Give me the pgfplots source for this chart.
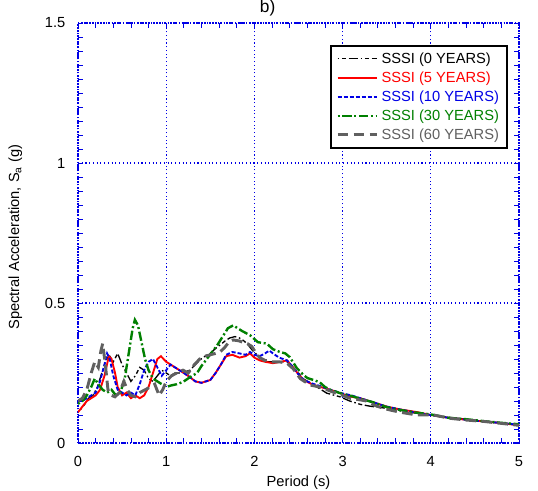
\documentclass[border=0pt]{standalone}
\usepackage{fontspec}
\setmainfont{Liberation Sans}
\usepackage{pgfplots}
\pgfplotsset{compat=1.18}
\usetikzlibrary{calc}
\definecolor{sgreen}{RGB}{0,128,0}
\definecolor{sgray}{RGB}{96,96,96}
\definecolor{sblue}{RGB}{0,0,230}

\begin{document}
\begin{tikzpicture}
\begin{axis}[
  scale only axis, width=330.75pt, height=315pt,
  xmin=0, xmax=5, ymin=0, ymax=1.5,
  xtick={0,1,2,3,4,5}, ytick={0,0.5,1,1.5},
  yticklabels={0,0.5,1,1.5},
  minor x tick num=4, minor y tick num=9,
  tick align=inside, major tick length=4pt, minor tick length=3.5pt,
  tick style={sblue, line width=0.6pt},
  axis line style={sblue, line width=1.1pt, densely dotted},
  grid=major, major grid style={sblue, line width=0.8pt, dotted},
  /pgf/number format/assume math mode=true,
  tick label style={font=\fontsize{11}{12}\selectfont},
  xticklabel style={yshift=-6.5pt},
  yticklabel style={xshift=-6pt},
  legend cell align=left,
  legend image code/.code={\draw[mark repeat=2,mark phase=2] plot coordinates {(0cm,0cm) (0.55cm,0cm) (1.05cm,0cm)};},
  legend style={at={(rel axis cs:0.975,0.948)}, anchor=north east, draw=black, line width=1.5pt,
    font=\fontsize{11}{12}\selectfont, inner xsep=4pt, inner ysep=3pt, row sep=0.8pt},
]
\coordinate (bl) at (rel axis cs:0,0);
\coordinate (tr) at (rel axis cs:1,1);

% SSSI 0 years
\addplot[black, line width=1pt, dash pattern=on 1.2pt off 2pt on 3pt off 2pt on 7pt off 2pt] coordinates {
(0.03,0.12)(0.08,0.14)(0.12,0.16)(0.17,0.17)(0.22,0.20)(0.27,0.25)(0.32,0.30)(0.36,0.31)(0.40,0.29)(0.45,0.32)
(0.50,0.28)(0.55,0.25)(0.60,0.22)(0.65,0.24)(0.70,0.27)(0.75,0.26)(0.80,0.23)(0.85,0.22)(0.90,0.24)(0.95,0.26)
(1.00,0.25)(1.05,0.24)(1.10,0.25)(1.18,0.25)(1.27,0.26)(1.33,0.28)(1.38,0.296)(1.44,0.31)(1.50,0.32)(1.55,0.335)
(1.61,0.35)(1.67,0.365)(1.72,0.375)(1.78,0.38)(1.83,0.375)(1.88,0.365)(1.93,0.35)(1.98,0.33)(2.03,0.315)(2.08,0.30)
(2.15,0.29)(2.21,0.29)(2.30,0.29)(2.37,0.29)(2.44,0.27)(2.50,0.25)(2.55,0.23)(2.63,0.215)(2.71,0.20)(2.82,0.178)
(2.97,0.165)(3.08,0.15)(3.20,0.138)(3.30,0.132)(3.39,0.128)(3.50,0.124)(3.65,0.115)(3.80,0.108)(4.00,0.10)(4.20,0.092)
(4.40,0.085)(4.60,0.077)(4.80,0.072)(5.00,0.066)};
\addlegendentry{\textcolor{black}{SSSI (0 YEARS)}}

% SSSI 5 years
\addplot[red, line width=1.4pt] coordinates {
(0.00,0.11)(0.05,0.13)(0.10,0.15)(0.15,0.16)(0.20,0.17)(0.25,0.19)(0.30,0.24)(0.35,0.31)(0.38,0.30)(0.42,0.25)
(0.45,0.20)(0.50,0.17)(0.55,0.18)(0.60,0.16)(0.65,0.17)(0.70,0.16)(0.75,0.17)(0.80,0.20)(0.85,0.25)(0.90,0.30)
(0.94,0.31)(1.00,0.29)(1.05,0.28)(1.10,0.27)(1.20,0.25)(1.27,0.235)(1.33,0.22)(1.40,0.215)(1.50,0.225)(1.56,0.25)
(1.62,0.28)(1.68,0.31)(1.75,0.315)(1.83,0.305)(1.90,0.31)(1.95,0.32)(2.00,0.305)(2.06,0.295)(2.12,0.29)(2.21,0.285)
(2.30,0.29)(2.37,0.295)(2.44,0.27)(2.50,0.245)(2.56,0.225)(2.65,0.21)(2.75,0.20)(2.86,0.19)(3.00,0.175)(3.10,0.165)
(3.20,0.16)(3.35,0.145)(3.50,0.13)(3.65,0.12)(3.85,0.11)(4.00,0.10)(4.20,0.09)(4.40,0.083)(4.60,0.077)(4.80,0.071)
(5.00,0.063)};
\addlegendentry{\textcolor{red}{SSSI (5 YEARS)}}

% SSSI 10 years
\addplot[sblue, line width=1.4pt, dash pattern=on 3pt off 1.5pt] coordinates {
(0.00,0.15)(0.05,0.15)(0.10,0.16)(0.15,0.17)(0.20,0.18)(0.25,0.22)(0.30,0.28)(0.33,0.32)(0.36,0.30)(0.40,0.24)
(0.45,0.19)(0.50,0.18)(0.55,0.17)(0.60,0.18)(0.65,0.17)(0.70,0.21)(0.75,0.26)(0.80,0.29)(0.85,0.30)(0.90,0.27)
(0.95,0.24)(1.00,0.26)(1.05,0.28)(1.10,0.27)(1.20,0.25)(1.27,0.235)(1.33,0.22)(1.40,0.215)(1.50,0.225)(1.56,0.25)
(1.62,0.28)(1.68,0.315)(1.75,0.325)(1.83,0.32)(1.90,0.315)(1.95,0.325)(2.00,0.315)(2.06,0.31)(2.12,0.32)(2.17,0.33)
(2.21,0.32)(2.28,0.305)(2.37,0.295)(2.44,0.27)(2.50,0.245)(2.56,0.225)(2.65,0.213)(2.75,0.203)(2.86,0.19)(3.00,0.177)
(3.10,0.17)(3.20,0.16)(3.35,0.145)(3.50,0.13)(3.65,0.12)(3.85,0.107)(4.00,0.10)(4.20,0.09)(4.40,0.083)(4.60,0.077)
(4.80,0.071)(5.00,0.065)};
\addlegendentry{\textcolor{sblue}{SSSI (10 YEARS)}}

% SSSI 30 years
\addplot[sgreen, line width=1.8pt, dash pattern=on 1.5pt off 2pt on 7pt off 2pt] coordinates {
(0.00,0.14)(0.05,0.15)(0.10,0.17)(0.15,0.20)(0.19,0.23)(0.23,0.21)(0.28,0.19)(0.33,0.18)(0.38,0.19)(0.43,0.17)
(0.48,0.18)(0.53,0.23)(0.58,0.33)(0.62,0.41)(0.645,0.44)(0.68,0.42)(0.72,0.36)(0.76,0.30)(0.80,0.26)(0.85,0.23)
(0.90,0.22)(0.95,0.21)(1.00,0.20)(1.05,0.205)(1.12,0.21)(1.19,0.218)(1.27,0.235)(1.35,0.25)(1.40,0.275)(1.46,0.30)
(1.52,0.325)(1.58,0.35)(1.64,0.38)(1.70,0.41)(1.76,0.42)(1.81,0.41)(1.86,0.40)(1.95,0.385)(2.04,0.36)(2.14,0.355)
(2.21,0.335)(2.29,0.325)(2.35,0.32)(2.40,0.307)(2.48,0.268)(2.55,0.245)(2.60,0.232)(2.67,0.225)(2.74,0.217)(2.80,0.20)
(2.86,0.19)(3.00,0.175)(3.10,0.168)(3.20,0.158)(3.35,0.145)(3.50,0.128)(3.65,0.118)(3.80,0.11)(4.00,0.102)(4.20,0.09)
(4.40,0.085)(4.60,0.078)(4.80,0.072)(5.00,0.067)};
\addlegendentry{\textcolor{sgreen}{SSSI (30 YEARS)}}

% SSSI 60 years
\addplot[sgray, line width=2.2pt, dash pattern=on 8pt off 4pt] coordinates {
(0.00,0.15)(0.05,0.16)(0.10,0.19)(0.15,0.25)(0.19,0.29)(0.23,0.27)(0.26,0.33)(0.28,0.355)(0.31,0.28)(0.34,0.19)
(0.38,0.17)(0.42,0.165)(0.47,0.18)(0.52,0.22)(0.56,0.19)(0.60,0.17)(0.65,0.165)(0.70,0.18)(0.76,0.19)(0.82,0.20)
(0.87,0.21)(0.92,0.17)(0.96,0.19)(1.00,0.22)(1.06,0.24)(1.12,0.25)(1.19,0.26)(1.25,0.25)(1.32,0.28)(1.38,0.30)
(1.44,0.31)(1.50,0.315)(1.56,0.32)(1.61,0.325)(1.66,0.34)(1.71,0.36)(1.76,0.368)(1.82,0.365)(1.87,0.36)(1.92,0.355)
(1.97,0.345)(2.02,0.32)(2.06,0.305)(2.12,0.295)(2.20,0.29)(2.28,0.29)(2.37,0.285)(2.44,0.265)(2.52,0.23)(2.63,0.207)
(2.74,0.20)(2.89,0.182)(3.00,0.17)(3.08,0.16)(3.18,0.155)(3.27,0.15)(3.36,0.135)(3.46,0.124)(3.55,0.117)(3.65,0.11)
(3.84,0.10)(4.03,0.10)(4.22,0.088)(4.40,0.082)(4.60,0.077)(4.80,0.07)(5.00,0.063)};
\addlegendentry{\textcolor{sgray}{SSSI (60 YEARS)}}
\end{axis}

\node[anchor=base, font=\fontsize{13}{14}\selectfont] at ($(bl)!0.43!(bl-|tr)+(0,315pt)+(0,7.5pt)$) {b)};
\node[anchor=north, inner sep=0pt, font=\fontsize{11}{12}\selectfont] at ($(bl)!0.5!(bl-|tr)+(0,-24.5pt)$) {Period (s)};
\node[rotate=90, inner sep=0pt, font=\fontsize{11}{12}\selectfont] at ($(bl)+(-47pt,0.49*315pt)$) {Spectral Acceleration, S\textsubscript{a} (g)};

\pgfresetboundingbox
\path[use as bounding box] ($(bl)+(-58.5pt,-36pt)$) rectangle ($(tr)+(14.25pt,17.25pt)$);
\end{tikzpicture}
\end{document}
